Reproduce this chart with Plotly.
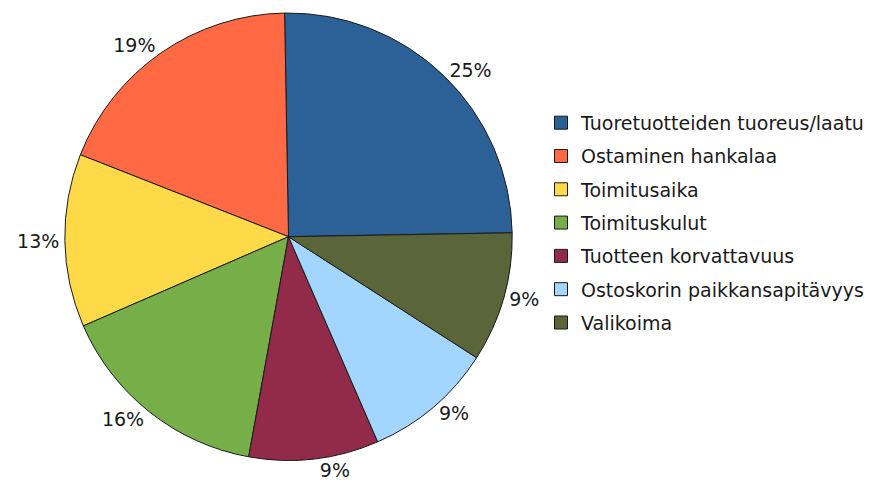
import plotly.graph_objects as go

categories = [
    "Tuoretuotteiden tuoreus/laatu",
    "Ostaminen hankalaa",
    "Toimitusaika",
    "Toimituskulut",
    "Tuotteen korvattavuus",
    "Ostoskorin paikkansapitävyys",
    "Valikoima",
]
counts = [8, 6, 4, 5, 3, 3, 3]
colors = ["#2b6196", "#ff6a44", "#ffda48", "#76ae48", "#922b49", "#a2d6ff", "#5a6539"]

W, H = 874, 490
FONT = "DejaVu Sans"
OFF = 8  # page body margin
START = 1  # degrees above 3 o'clock where the first slice begins

dom = dict(x=[(62.5 - OFF) / W, (514.5 - OFF) / W],
           y=[1 - (460 - OFF) / H, 1.0])

fig = go.Figure()
fig.add_trace(
    go.Pie(
        labels=categories,
        values=counts,
        sort=False,
        direction="counterclockwise",
        rotation=-START,
        marker=dict(colors=colors, line=dict(color="#1a1a1a", width=1)),
        texttemplate="%{percent:.0%}",
        textposition="outside",
        textfont=dict(family=FONT, size=19, color="#1a1a1a"),
        hoverinfo="label+percent",
        domain=dom,
        showlegend=False,
    )
)

# legend entries (one per category, same colours as the slices)
for name, col in zip(categories, colors):
    fig.add_trace(
        go.Scatter(
            x=[None],
            y=[None],
            mode="markers",
            name=name,
            legendgroup=name,
            marker=dict(symbol="square", size=13, color=col,
                        line=dict(color="#1a1a1a", width=1)),
            hoverinfo="skip",
            showlegend=True,
        )
    )

fig.update_layout(
    width=W,
    height=H,
    margin=dict(l=0, r=0, t=0, b=0),
    paper_bgcolor="white",
    plot_bgcolor="white",
    font=dict(family=FONT, color="#1a1a1a"),
    xaxis=dict(visible=False),
    yaxis=dict(visible=False),
    legend=dict(
        x=(541 - OFF) / W,
        xanchor="left",
        y=1 - (220 - OFF) / H,
        yanchor="middle",
        tracegroupgap=5.6,
        font=dict(family=FONT, size=19, color="#1a1a1a"),
        bgcolor="rgba(0,0,0,0)",
    ),
)

fig.write_html("out.html")
